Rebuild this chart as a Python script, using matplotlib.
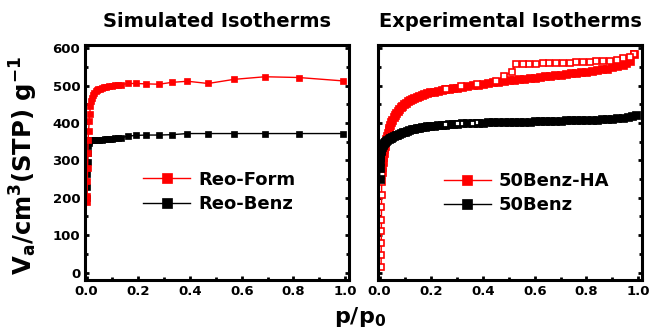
import matplotlib
matplotlib.use("Agg")
import matplotlib.pyplot as plt
from matplotlib.ticker import MultipleLocator, FormatStrFormatter

plt.rcParams['font.family'] = ['DejaVu Sans']
plt.rcParams['mathtext.default'] = 'bf'

# ---------------- Simulated isotherms ----------------
reo_form_x = [0.001, 0.002, 0.003, 0.004, 0.005, 0.006, 0.008, 0.010, 0.012, 0.015, 0.018,
              0.022, 0.026, 0.030, 0.035, 0.040, 0.046, 0.052, 0.060, 0.068, 0.077, 0.087,
              0.098, 0.110, 0.122, 0.135, 0.16, 0.19, 0.23, 0.28, 0.33, 0.39, 0.47, 0.57,
              0.69, 0.82, 0.99]
reo_form_y = [190, 205, 245, 280, 320, 355, 380, 405, 425, 445, 458,
              468, 475, 480, 485, 488, 490, 492, 494, 496, 497, 499,
              500, 501, 502, 503, 506, 506, 505, 504, 509, 512, 506, 517,
              524, 522, 513]

reo_benz_x = [0.001, 0.002, 0.003, 0.004, 0.005, 0.006, 0.008, 0.010, 0.013, 0.016, 0.020,
              0.025, 0.030, 0.040, 0.050, 0.060, 0.070, 0.080, 0.090, 0.100, 0.110, 0.120,
              0.135, 0.16, 0.19, 0.23, 0.28, 0.33, 0.39, 0.47, 0.57, 0.69, 0.82, 0.99]
reo_benz_y = [200, 230, 265, 295, 320, 338, 348, 353, 355, 355, 354,
              354, 355, 355, 356, 356, 357, 357, 358, 358, 359, 360,
              361, 365, 367, 368, 368, 369, 372, 372, 372, 372, 372, 372]

# ---------------- Experimental isotherms ----------------
ha_low_x = [0.006, 0.0063, 0.0066, 0.0069, 0.0072, 0.0075, 0.0078, 0.0081, 0.0084]
ha_low_y = [16, 47, 79, 110, 141, 176, 207, 243, 260]

ha_ads_x = [0.009, 0.010, 0.012, 0.014, 0.016, 0.018, 0.020, 0.023, 0.026, 0.029, 0.032,
            0.035, 0.038, 0.042, 0.046, 0.050, 0.055, 0.060, 0.065, 0.070, 0.076, 0.082,
            0.088, 0.095, 0.102, 0.110, 0.118, 0.126, 0.135, 0.144, 0.153, 0.163, 0.173,
            0.184, 0.195, 0.21, 0.225, 0.24, 0.255, 0.27, 0.285, 0.30, 0.32, 0.34, 0.36,
            0.38, 0.40, 0.42, 0.44, 0.46, 0.48, 0.50, 0.52, 0.54, 0.56, 0.58, 0.60, 0.62,
            0.64, 0.66, 0.68, 0.70, 0.72, 0.74, 0.76, 0.78, 0.80, 0.82, 0.84, 0.86, 0.88,
            0.90, 0.92, 0.94, 0.955, 0.97, 0.985]
ha_ads_y = [270, 282, 295, 308, 320, 331, 340, 350, 358, 366, 374,
            381, 388, 396, 403, 409, 416, 422, 428, 433, 438, 443,
            447, 451, 455, 459, 462, 465, 468, 471, 473, 476, 478,
            480, 482, 484, 486, 488, 490, 492, 494, 495, 497, 499, 501,
            503, 505, 507, 509, 511, 512, 514, 516, 517, 519, 521, 522, 524,
            525, 527, 528, 530, 531, 533, 535, 536, 538, 540, 542, 544, 546,
            549, 552, 556, 561, 566, 585]

ha_des_x = [0.985, 0.969, 0.943, 0.917, 0.891, 0.865, 0.839, 0.813, 0.787, 0.761, 0.735,
            0.709, 0.683, 0.657, 0.631, 0.605, 0.579, 0.553, 0.527, 0.511, 0.481, 0.45,
            0.377, 0.315, 0.257]
ha_des_y = [585, 578, 573, 569, 567, 566, 565, 564, 563, 563, 562,
            561, 561, 560, 560, 559, 558, 558, 557, 538, 525, 513,
            505, 499, 492]

benz_ads_x = [0.0005, 0.001, 0.0015, 0.002, 0.003, 0.004, 0.005, 0.007, 0.009, 0.012, 0.015,
              0.018, 0.022, 0.026, 0.030, 0.035, 0.040, 0.045, 0.050, 0.056, 0.062, 0.068,
              0.075, 0.082, 0.090, 0.098, 0.106, 0.115, 0.124, 0.133, 0.143, 0.153, 0.163,
              0.174, 0.185, 0.196, 0.21, 0.225, 0.24, 0.255, 0.27, 0.285, 0.30, 0.32, 0.34,
              0.36, 0.38, 0.40, 0.42, 0.44, 0.46, 0.48, 0.50, 0.52, 0.54, 0.56, 0.58, 0.60,
              0.62, 0.64, 0.66, 0.68, 0.70, 0.72, 0.74, 0.76, 0.78, 0.80, 0.82, 0.84, 0.86,
              0.88, 0.90, 0.92, 0.94, 0.96, 0.975, 0.99]
benz_ads_y = [250, 280, 298, 308, 318, 324, 328, 333, 337, 341, 344,
              347, 350, 352, 355, 357, 359, 361, 363, 365, 367, 369,
              371, 373, 375, 377, 379, 381, 383, 384, 386, 387, 389,
              390, 391, 392, 393, 394, 395, 396, 397, 398, 398, 399, 400,
              400, 401, 401, 402, 402, 402, 403, 403, 403, 404, 404, 404, 405,
              405, 405, 406, 406, 406, 407, 407, 407, 408, 408, 409, 409, 410,
              411, 412, 413, 414, 416, 418, 421]

benz_des_x = [0.374, 0.358, 0.316, 0.300, 0.253]
benz_des_y = [402, 401, 399, 399, 397]

RED = '#ff0000'
BLACK = '#000000'

fig = plt.figure(figsize=(6.52, 3.35), dpi=100)
W, H = 652.0, 335.0
ax1 = fig.add_axes([85 / W, 1 - 280 / H, 264 / W, 235 / H])
ax2 = fig.add_axes([378 / W, 1 - 280 / H, 264 / W, 235 / H])

# Simulated
ax1.plot(reo_benz_x, reo_benz_y, '-s', color=BLACK, lw=1.0, ms=4.4, mew=0.5,
         mec=BLACK, label='Reo-Benz')
ax1.plot(reo_form_x, reo_form_y, '-s', color=RED, lw=1.0, ms=4.4, mew=0.5,
         mec=RED, label='Reo-Form')

# Experimental
l_ha, = ax2.plot(ha_ads_x, ha_ads_y, '-s', color=RED, lw=1.0, ms=6.3, mew=0.5,
                 mec=RED, label='50Benz-HA', zorder=2)
ax2.plot(ha_low_x, ha_low_y, '-s', color=RED, lw=1.0, ms=3.8, mew=1.2,
         mec=RED, mfc='white', zorder=2.1)
ax2.plot(ha_des_x, ha_des_y, '-s', color=RED, lw=1.0, ms=3.8, mew=1.2,
         mec=RED, mfc='white', zorder=2.2)
l_bz, = ax2.plot(benz_ads_x, benz_ads_y, '-s', color=BLACK, lw=1.0, ms=6.3, mew=0.5,
                 mec=BLACK, label='50Benz', zorder=3)
ax2.plot(benz_des_x, benz_des_y, '-s', color=BLACK, lw=1.0, ms=3.6, mew=1.3,
         mec=BLACK, mfc='white', zorder=3.1)

for ax in (ax1, ax2):
    ax.set_xlim(-0.006, 1.015)
    ax.set_ylim(-20, 609)
    ax.xaxis.set_major_locator(MultipleLocator(0.2))
    ax.xaxis.set_minor_locator(MultipleLocator(0.1))
    ax.yaxis.set_major_locator(MultipleLocator(100))
    ax.yaxis.set_minor_locator(MultipleLocator(50))
    ax.tick_params(which='both', direction='in', left=True, right=True, top=False,
                   bottom=True, labelsize=9.5, pad=3.5)
    ax.tick_params(which='major', length=3, width=2)
    ax.tick_params(which='minor', length=2, width=2)
    for s in ax.spines.values():
        s.set_linewidth(2.2)
    ax.xaxis.set_major_formatter(FormatStrFormatter('%.1f'))
    for lab in ax.get_xticklabels() + ax.get_yticklabels():
        lab.set_fontweight('bold')

ax2.tick_params(labelleft=False)

ax1.set_title('Simulated Isotherms', fontsize=14, fontweight='bold', pad=13)
ax2.set_title('Experimental Isotherms', fontsize=14, fontweight='bold', pad=13)

h, l = ax1.get_legend_handles_labels()
ax1.legend(h[::-1], l[::-1], loc='center left', bbox_to_anchor=(0.22, 0.375),
           frameon=False, prop={'weight': 'bold', 'size': 13}, handlelength=2.6,
           handletextpad=0.45, labelspacing=0.35, numpoints=1, markerscale=1.5,
           borderaxespad=0, borderpad=0)
ax2.legend([l_ha, l_bz], ['50Benz-HA', '50Benz'], loc='center left',
           bbox_to_anchor=(0.25, 0.37), frameon=False,
           prop={'weight': 'bold', 'size': 13}, handlelength=2.6,
           handletextpad=0.45, labelspacing=0.35, numpoints=1, markerscale=1.05,
           borderaxespad=0, borderpad=0)

fig.text(24 / W, 1 - 165 / H, 'V$_a$/cm$^3$(STP) g$^{-1}$', rotation=90,
         ha='center', va='center', fontsize=17.5, fontweight='bold')
fig.text(360 / W, 1 - 317 / H, 'p/p$_0$', ha='center', va='center',
         fontsize=16, fontweight='bold')

fig.savefig('out.png', dpi=100)
